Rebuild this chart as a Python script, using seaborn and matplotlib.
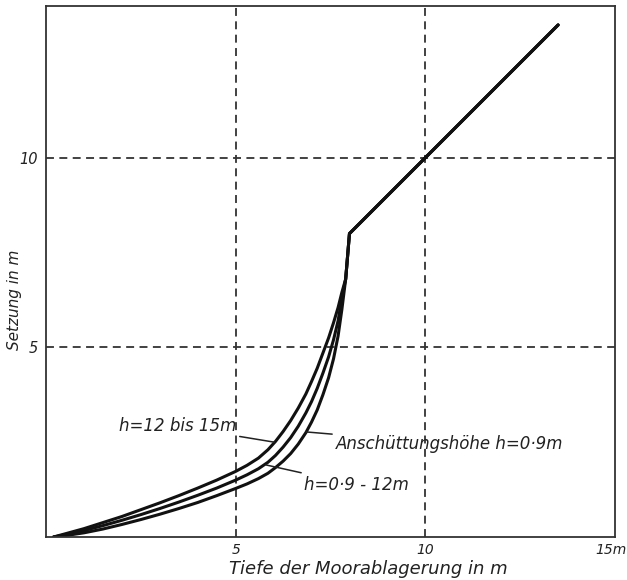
import matplotlib
matplotlib.use("Agg")
import matplotlib.pyplot as plt
from matplotlib.transforms import ScaledTranslation
import seaborn as sns
import pandas as pd

# --- data ---
tail_x = [7.9, 8.0, 13.5]
tail_y = [6.8, 8.0, 13.5]

upper_x = [0.2, 0.6, 1.0, 1.5, 2.0, 2.5, 3.0, 3.5, 4.0, 4.5, 5.0, 5.3, 5.6, 5.85, 6.05,
           6.25, 6.45, 6.65, 6.85, 7.0, 7.15, 7.3, 7.45, 7.58, 7.7, 7.8]
upper_y = [0.0, 0.11, 0.22, 0.38, 0.54, 0.72, 0.9, 1.09, 1.29, 1.5, 1.73, 1.89, 2.08, 2.3, 2.52,
           2.78, 3.07, 3.4, 3.77, 4.1, 4.45, 4.85, 5.25, 5.65, 6.05, 6.45]

middle_x = [0.2, 0.6, 1.0, 1.5, 2.0, 2.5, 3.0, 3.5, 4.0, 4.5, 5.0, 5.3, 5.6, 5.85, 6.05,
            6.25, 6.45, 6.65, 6.85, 7.0, 7.15, 7.3, 7.45, 7.58, 7.7, 7.8]
middle_y = [0.0, 0.08, 0.17, 0.3, 0.44, 0.59, 0.75, 0.92, 1.1, 1.29, 1.5, 1.64, 1.8, 1.97, 2.15,
            2.37, 2.62, 2.92, 3.27, 3.57, 3.92, 4.32, 4.75, 5.2, 5.7, 6.3]

lower_x = [0.2, 0.6, 1.0, 1.5, 2.0, 2.5, 3.0, 3.5, 4.0, 4.5, 5.0, 5.3, 5.6, 5.85, 6.05,
           6.25, 6.45, 6.65, 6.85, 7.0, 7.15, 7.3, 7.45, 7.58, 7.7, 7.8]
lower_y = [0.0, 0.05, 0.11, 0.21, 0.33, 0.46, 0.6, 0.75, 0.91, 1.09, 1.28, 1.4, 1.54, 1.68, 1.83,
           2.0, 2.2, 2.45, 2.75, 3.03, 3.35, 3.75, 4.2, 4.7, 5.3, 6.0]

x_ticks = [5, 10, 15]
x_ticklabels = ["5", "10", "15m"]
y_ticks = [5, 10]
y_ticklabels = ["5", "10"]

labels = ["h=12 bis 15m", "Anschüttungshöhe h=0·9m", "h=0·9 - 12m"]

sns.set_theme(style="white")
plt.rcParams["font.family"] = ["DejaVu Sans"]

fig = plt.figure(figsize=(6.27, 5.8), dpi=100)
ax = fig.add_axes([46/627, 43/580, (615-46)/627, (537-6)/580])

curves = [
    (upper_x + tail_x, upper_y + tail_y),
    (middle_x + tail_x, middle_y + tail_y),
    (lower_x + tail_x, lower_y + tail_y),
]
for cx, cy in curves:
    df = pd.DataFrame({"x": cx, "y": cy})
    sns.lineplot(data=df, x="x", y="y", ax=ax, sort=False, estimator=None,
                 color="#111111", linewidth=2.2, solid_joinstyle="round")

ax.set_xlim(0, 15)
ax.set_ylim(0, 14)

for v in [5, 10]:
    ax.axvline(v, color="#333333", linewidth=1.3, linestyle=(0, (4.4, 3.0)), zorder=0)
    ax.axhline(v, color="#333333", linewidth=1.3, linestyle=(0, (4.4, 3.0)), zorder=0)

ax.set_xticks(x_ticks)
ax.set_xticklabels(x_ticklabels, fontstyle="italic", fontsize=10, color="#222222")
ax.set_yticks(y_ticks)
ax.set_yticklabels(y_ticklabels, fontstyle="italic", fontsize=10.5, color="#222222")
ax.tick_params(axis="x", length=0, pad=4)
ax.tick_params(axis="y", length=4, width=1.0, direction="out", color="#333333", pad=2)
last = ax.get_xticklabels()[-1]
last.set_transform(last.get_transform() + ScaledTranslation(-4/100, 0, fig.dpi_scale_trans))

for s in ax.spines.values():
    s.set_color("#333333")
    s.set_linewidth(1.3)

ax.set_xlabel("Tiefe der Moorablagerung in m", fontstyle="italic", fontsize=13, color="#222222")
ax.xaxis.set_label_coords(0.566, -0.06)
ax.xaxis.label.set_va("center")
ax.set_ylabel("Setzung in m", fontstyle="italic", fontsize=11, color="#222222")
ax.yaxis.set_label_coords(-0.055, 0.446)
ax.yaxis.label.set_va("center")

# annotations with leader lines
ax.annotate(labels[0], xy=(6.02, 2.5), xytext=(5.02, 2.92),
            fontsize=12, fontstyle="italic", color="#222222", ha="right", va="center",
            arrowprops=dict(arrowstyle="-", color="#222222", lw=1.1, shrinkA=0, shrinkB=0))
ax.annotate(labels[1], xy=(6.86, 2.77), xytext=(7.63, 2.45),
            fontsize=12, fontstyle="italic", color="#222222", ha="left", va="center",
            arrowprops=dict(arrowstyle="-", color="#222222", lw=1.1, shrinkA=0, shrinkB=0))
ax.annotate(labels[2], xy=(5.8, 1.9), xytext=(6.8, 1.37),
            fontsize=12, fontstyle="italic", color="#222222", ha="left", va="center",
            arrowprops=dict(arrowstyle="-", color="#222222", lw=1.1, shrinkA=0, shrinkB=0))

fig.savefig("out.png", dpi=100, facecolor="white")
